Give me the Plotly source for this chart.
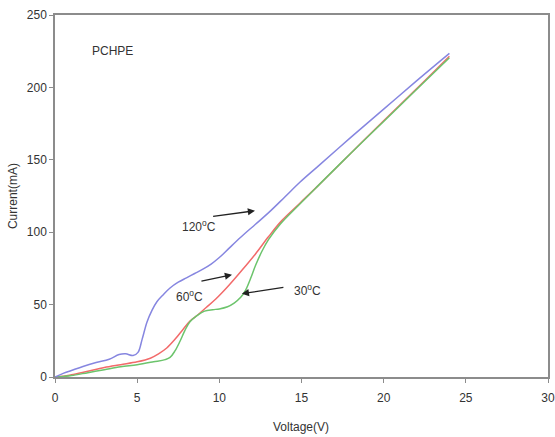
import plotly.graph_objects as go

# Voltage (V) / Current (mA)
v_120 = [0, 0.5, 1.0, 1.7, 2.5, 3.3, 3.9, 4.3, 4.75, 5.05, 5.3, 5.6, 5.9, 6.2, 6.6, 7.0, 7.5, 8.0, 8.5, 9.0, 9.5, 10.0, 10.6, 11.3, 12.2, 13.0, 14.0, 14.9, 16.0, 18.0, 20.0, 22.0, 24.0]
i_120 = [0, 2.5, 4.5, 7.3, 10.0, 12.3, 15.5, 16.0, 14.8, 17.0, 26.0, 38.0, 46.0, 52.0, 57.0, 61.5, 65.5, 68.5, 71.5, 74.5, 78.0, 82.5, 89.0, 96.5, 105.5, 113.5, 124.5, 134.5, 145.5, 165.5, 185.0, 204.5, 223.5]

v_60 = [0, 0.5, 1.0, 2.0, 3.0, 4.0, 5.0, 5.8, 6.3, 6.8, 7.3, 7.8, 8.2, 8.7, 9.2, 9.8, 10.6, 11.4, 12.2, 13.0, 13.8, 14.9, 16.0, 18.0, 20.0, 22.0, 24.0]
i_60 = [0, 0.5, 1.5, 4.0, 6.5, 8.5, 10.5, 13.0, 16.0, 20.0, 26.0, 33.0, 38.5, 43.0, 48.0, 54.0, 63.5, 74.0, 85.0, 97.0, 108.0, 120.0, 132.0, 154.5, 177.0, 199.0, 221.5]

v_30 = [0, 0.5, 1.0, 2.0, 3.0, 4.0, 5.0, 6.0, 6.7, 7.0, 7.3, 7.6, 7.9, 8.2, 8.6, 9.1, 9.6, 10.0, 10.5, 10.9, 11.3, 11.6, 11.9, 12.2, 12.6, 13.0, 13.7, 14.9, 16.0, 18.0, 20.0, 22.0, 24.0]
i_30 = [0, 0.3, 1.0, 3.0, 5.0, 7.0, 8.5, 10.5, 12.0, 13.5, 18.0, 24.5, 32.0, 38.0, 42.0, 45.5, 46.5, 47.0, 48.5, 51.0, 55.0, 60.0, 68.0, 77.0, 87.0, 95.0, 105.5, 119.5, 132.0, 154.5, 176.5, 198.5, 220.5]

x_ticks = [0, 5, 10, 15, 20, 25, 30]
y_ticks = [0, 50, 100, 150, 200, 250]

FONT = "Liberation Sans, Arial, sans-serif"
TXT = "#333333"
AX = "#8c8c8c"

fig = go.Figure()
fig.add_trace(go.Scatter(x=v_60, y=i_60, mode="lines", line=dict(color="#f26a6a", width=1.5), line_shape="spline", showlegend=False))
fig.add_trace(go.Scatter(x=v_30, y=i_30, mode="lines", line=dict(color="#6cc46c", width=1.5), line_shape="spline", showlegend=False))
fig.add_trace(go.Scatter(x=v_120, y=i_120, mode="lines", line=dict(color="#8686e0", width=1.5), line_shape="spline", showlegend=False))

ann = []
# text labels
ann.append(dict(x=3.47, y=225, xref="x", yref="y", text="PCHPE", showarrow=False, font=dict(family=FONT, size=12, color=TXT)))
ann.append(dict(x=8.76, y=104, xref="x", yref="y", text="120<sup>o</sup>C", showarrow=False, font=dict(family=FONT, size=12, color=TXT)))
ann.append(dict(x=8.18, y=56, xref="x", yref="y", text="60<sup>o</sup>C", showarrow=False, font=dict(family=FONT, size=12, color=TXT)))
ann.append(dict(x=15.36, y=60, xref="x", yref="y", text="30<sup>o</sup>C", showarrow=False, font=dict(family=FONT, size=12, color=TXT)))
# arrows
for (hx, hy, tx, ty) in [(12.17, 114.8, 9.53, 110.8), (10.77, 70.6, 8.82, 66.0), (11.37, 57.5, 13.99, 62.1)]:
    ann.append(dict(x=hx, y=hy, ax=tx, ay=ty, xref="x", yref="y", axref="x", ayref="y",
                    text="", showarrow=True, arrowhead=2, arrowsize=1.1, arrowwidth=1.3, arrowcolor="#222222"))
# axis titles
ann.append(dict(x=-0.085, y=0.5, xref="paper", yref="paper", xanchor="center", yanchor="middle",
                text="Current(mA)", textangle=-90, showarrow=False,
                font=dict(family=FONT, size=12, color=TXT)))
ann.append(dict(x=0.499, y=-0.138, xref="paper", yref="paper", xanchor="center", yanchor="middle",
                text="Voltage(V)", showarrow=False,
                font=dict(family=FONT, size=12, color=TXT)))

fig.update_layout(
    width=555, height=437,
    margin=dict(l=55, r=7, t=15, b=60, autoexpand=False),
    paper_bgcolor="white", plot_bgcolor="white",
    annotations=ann,
    xaxis=dict(range=[0, 30], tickvals=x_ticks, ticks="outside", ticklen=4, tickcolor=AX,
               showline=True, linecolor=AX, linewidth=1.5, mirror=True, showgrid=False, zeroline=False,
               automargin=False, ticklabelstandoff=5, tickfont=dict(family=FONT, size=12, color=TXT)),
    yaxis=dict(range=[0, 250], tickvals=y_ticks, ticks="outside", ticklen=4, tickcolor=AX,
               showline=True, linecolor=AX, linewidth=1.5, mirror=True, showgrid=False, zeroline=False,
               automargin=False, tickfont=dict(family=FONT, size=12, color=TXT)),
)

fig.write_html("out.html")
